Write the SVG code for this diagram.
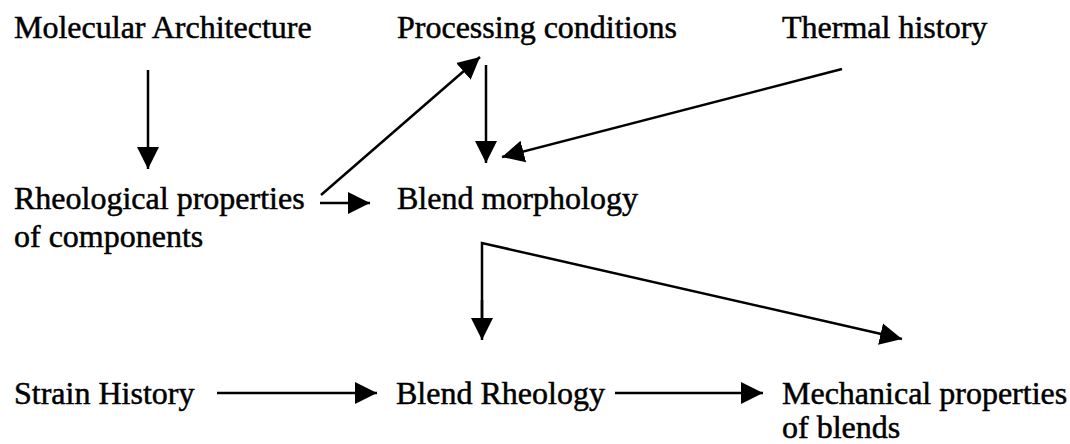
<svg xmlns="http://www.w3.org/2000/svg" width="1070" height="444" viewBox="0 0 1070 444">
<style>
.t{font-family:"Liberation Serif","Times New Roman",serif;font-size:32px;fill:#000;stroke:#000;stroke-width:0.5}
.c{stroke:#000;stroke-width:2.5;fill:none}
</style>
<defs>
<marker id="ah" markerUnits="userSpaceOnUse" markerWidth="24" markerHeight="24" viewBox="0 0 24 24" refX="22" refY="12" orient="auto">
<path d="M0,1 L22,12 L0,23 Z" fill="#000"/>
</marker>
</defs>
<rect width="1070" height="444" fill="#fff"/>
<g id="n-molecular"><text class="t" x="14" y="38">Molecular Architecture</text></g>
<g id="n-processing"><text class="t" x="397" y="38">Processing conditions</text></g>
<g id="n-thermal"><text class="t" x="782" y="38">Thermal history</text></g>
<g id="n-rheological"><text class="t" x="14" y="209">Rheological properties</text><text class="t" x="14" y="247">of components</text></g>
<g id="n-morphology"><text class="t" x="397" y="209">Blend morphology</text></g>
<g id="n-strain"><text class="t" x="14" y="404">Strain History</text></g>
<g id="n-blendrheo"><text class="t" x="396" y="404">Blend Rheology</text></g>
<g id="n-mechanical"><text class="t" x="782" y="404">Mechanical properties</text><text class="t" x="782" y="438">of blends</text></g>
<g id="connectors">
<line class="c" x1="148" y1="70" x2="148" y2="169" marker-end="url(#ah)"/>
<line class="c" x1="321" y1="195" x2="480" y2="57" marker-end="url(#ah)"/>
<line class="c" x1="486" y1="65" x2="486" y2="163" marker-end="url(#ah)"/>
<line class="c" x1="842" y1="69" x2="502" y2="157" marker-end="url(#ah)"/>
<line class="c" x1="320" y1="203" x2="370" y2="203" marker-end="url(#ah)"/>
<polyline class="c" points="482,330 482,243 890,336"/>
<line class="c" x1="482" y1="300" x2="482" y2="340" marker-end="url(#ah)"/>
<line class="c" x1="880" y1="334" x2="902" y2="339" marker-end="url(#ah)"/>
<line class="c" x1="217" y1="393" x2="377" y2="393" marker-end="url(#ah)"/>
<line class="c" x1="615" y1="393" x2="763" y2="393" marker-end="url(#ah)"/>
</g>
</svg>
